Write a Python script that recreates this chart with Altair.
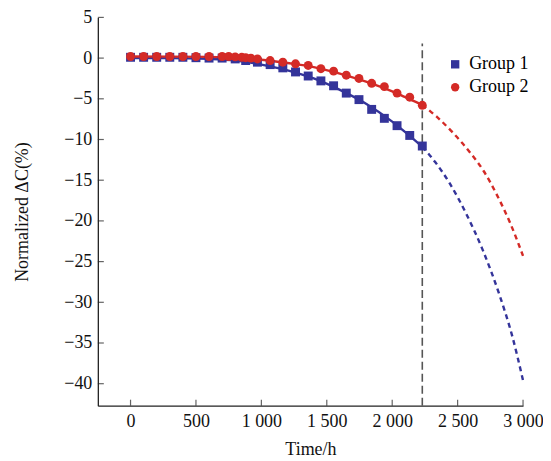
import altair as alt
import pandas as pd

# ---- measured points ----
g1_time = [0, 100, 200, 300, 400, 500, 600, 700, 800, 880, 970, 1067, 1164, 1261,
           1358, 1455, 1552, 1649, 1746, 1843, 1940, 2037, 2134, 2230]
g1_val = [0.1, 0.1, 0.1, 0.1, 0.1, 0.05, 0.0, 0.0, -0.1, -0.3, -0.5, -0.8, -1.2, -1.7,
          -2.2, -2.8, -3.4, -4.3, -5.1, -6.3, -7.4, -8.3, -9.5, -10.8]

g2_time = [0, 100, 200, 300, 400, 500, 600, 700, 750, 800, 850, 880, 920, 970, 1067,
           1164, 1261, 1358, 1455, 1552, 1649, 1746, 1843, 1940, 2037, 2134, 2230]
g2_val = [0.2, 0.2, 0.2, 0.2, 0.2, 0.2, 0.2, 0.2, 0.2, 0.15, 0.1, 0.05, 0.0, -0.1, -0.3,
          -0.5, -0.7, -0.9, -1.3, -1.6, -2.1, -2.5, -3.1, -3.5, -4.3, -4.8, -5.8]

# ---- fitted curves ----
fit1_time = [0, 300, 600, 800, 1000, 1200, 1400, 1600, 1800, 2000, 2100, 2230]
fit1_val = [0.0, 0.0, -0.1, -0.3, -0.8, -1.5, -2.5, -3.9, -5.6, -7.8, -9.1, -10.9]
ext1_time = [2230, 2330, 2440, 2565, 2690, 2820, 2920, 3000]
ext1_val = [-10.9, -12.8, -15.4, -19.1, -23.5, -29.1, -34.3, -39.6]

fit2_time = [0, 600, 800, 1000, 1200, 1400, 1600, 1800, 2000, 2100, 2230]
fit2_val = [0.2, 0.15, 0.0, -0.2, -0.6, -1.1, -1.9, -2.9, -4.1, -4.8, -5.75]
ext2_time = [2230, 2340, 2460, 2600, 2700, 2800, 2900, 3000]
ext2_val = [-5.75, -7.2, -9.1, -11.7, -13.9, -16.8, -20.2, -24.3]

cut_time = [2230]
x_ticks = [0, 500, 1000, 1500, 2000, 2500, 3000]
y_ticks = [5, 0, -5, -10, -15, -20, -25, -30, -35, -40]
groups = ["Group 1", "Group 2"]
colors = ["#34349a", "#d42a26"]

XMIN, XMAX = -250, 3000
YMIN, YMAX = -42.7, 5
FONT = "Liberation Serif"

pts = pd.DataFrame(
    {"t": g1_time + g2_time,
     "v": g1_val + g2_val,
     "g": [groups[0]] * len(g1_time) + [groups[1]] * len(g2_time)}
)

xs = alt.Scale(domain=[XMIN, XMAX], nice=False, zero=False)
ys = alt.Scale(domain=[YMIN, YMAX], nice=False, zero=False)

x_label = ("datum.value >= 1000 ? floor(datum.value/1000) + ' ' + "
           "format(datum.value % 1000, '03d') : '' + datum.value")
y_label = "datum.value < 0 ? '\u2212' + abs(datum.value) : '' + datum.value"

xaxis = alt.Axis(values=x_ticks, labelExpr=x_label, ticks=False, grid=False,
                 labelFlush=False, labelOverlap=False,
                 title="Time/h", labelPadding=7, titlePadding=10)
yaxis = alt.Axis(values=y_ticks, labelExpr=y_label, ticks=False, grid=False,
                 labelFlush=False, labelOverlap=False,
                 title="Normalized \u0394C(%)", labelPadding=6, titlePadding=32)


def curve(t, v, color, dash=None):
    df = pd.DataFrame({"t": t, "v": v})
    kw = dict(color=color, strokeWidth=2.4, interpolate="monotone")
    if dash:
        kw["strokeDash"] = dash
    return alt.Chart(df).mark_line(**kw).encode(
        x=alt.X("t:Q", scale=xs, axis=xaxis),
        y=alt.Y("v:Q", scale=ys, axis=yaxis),
    )


cut = alt.Chart(pd.DataFrame({"t": cut_time})).mark_rule(
    color="#555555", strokeWidth=1.6, strokeDash=[8, 4]
).encode(x=alt.X("t:Q", scale=xs), y=alt.datum(YMIN), y2=alt.datum(1.8))

points = alt.Chart(pts).mark_point(filled=True, opacity=1, strokeWidth=0).encode(
    x=alt.X("t:Q", scale=xs, axis=xaxis),
    y=alt.Y("v:Q", scale=ys, axis=yaxis),
    color=alt.Color("g:N", scale=alt.Scale(domain=groups, range=colors),
                    legend=alt.Legend(title=None, orient="none", legendX=349, legendY=38,
                                      labelFont=FONT, labelFontSize=18, symbolSize=70,
                                      rowPadding=5, labelOffset=5)),
    shape=alt.Shape("g:N", scale=alt.Scale(domain=groups, range=["square", "circle"])),
    size=alt.value(80),
)

xt = alt.Chart(pd.DataFrame({"t": x_ticks})).mark_tick(
    orient="vertical", size=6, thickness=1.2, color="#222222"
).encode(x=alt.X("t:Q", scale=xs), y=alt.datum(YMIN), yOffset=alt.value(-3))

yt = alt.Chart(pd.DataFrame({"v": y_ticks})).mark_tick(
    orient="horizontal", size=6, thickness=1.2, color="#222222"
).encode(y=alt.Y("v:Q", scale=ys), x=alt.datum(XMIN), xOffset=alt.value(3))

chart = alt.layer(
    cut,
    curve(fit1_time, fit1_val, colors[0]),
    curve(ext1_time, ext1_val, colors[0], [5, 4]),
    curve(fit2_time, fit2_val, colors[1]),
    curve(ext2_time, ext2_val, colors[1], [5, 4]),
    points,
    xt,
    yt,
).properties(
    width=426, height=389,
    autosize=alt.AutoSizeParams(type="none"),
    padding={"left": 90, "top": 9, "right": 20, "bottom": 54},
).configure_view(stroke=None).configure_axis(
    labelFont=FONT, titleFont=FONT, labelFontSize=18, titleFontSize=18,
    titleFontWeight="normal", labelColor="#111111", titleColor="#111111",
    domainColor="#222222", domainWidth=1.3,
)

chart.save("out.html", embed_options={"renderer": "svg", "actions": False})
